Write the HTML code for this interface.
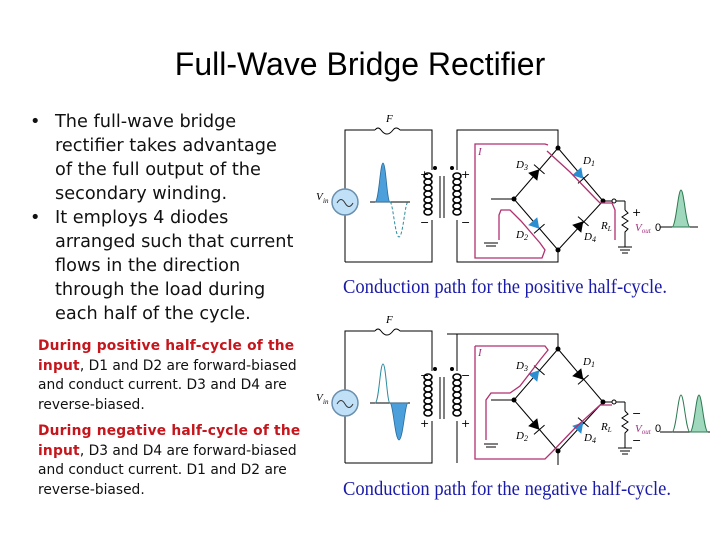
<!DOCTYPE html>
<html><head><meta charset="utf-8"><style>
body{margin:0;background:#fff;}
#p{position:relative;width:720px;height:540px;overflow:hidden;background:#fff;}
.t{position:absolute;left:0;width:720px;top:46px;text-align:center;font:32px "Liberation Sans",sans-serif;color:#000;}
.b{position:absolute;left:30px;top:110px;font:17.7px/24px "DejaVu Sans","Liberation Sans",sans-serif;color:#111;letter-spacing:0px;white-space:nowrap;}
.b div{position:relative;padding-left:25px;}
.b div:before{content:"•";position:absolute;left:0;}
.s{position:absolute;left:38px;font:13.8px/19.5px "DejaVu Sans","Liberation Sans",sans-serif;color:#111;letter-spacing:0px;white-space:nowrap;}
.r{color:#c4161c;font-weight:bold;letter-spacing:0.2px;}
svg{position:absolute;left:0;top:0;}
</style></head><body><div id="p">
<div class="t">Full-Wave Bridge Rectifier</div>
<div class="b"><div>The full-wave bridge<br>rectifier takes advantage<br>of the full output of the<br>secondary winding.</div><div>It employs 4 diodes<br>arranged such that current<br>flows in the direction<br>through the load during<br>each half of the cycle.</div></div>
<div class="s" style="top:337px"><span class="r">During positive half-cycle of the<br>input</span>, D1 and D2 are forward-biased<br>and conduct current. D3 and D4 are<br>reverse-biased.</div>
<div class="s" style="top:422px"><span class="r">During negative half-cycle of the<br>input</span>, D3 and D4 are forward-biased<br>and conduct current. D1 and D2 are<br>reverse-biased.</div>
<svg width="720" height="540" viewBox="0 0 720 540">
<defs>
<g id="d"><polygon points="-5,-6 5,0 -5,6"/><line x1="5" y1="-7" x2="5" y2="7" stroke="#000" stroke-width="1"/></g>
<g id="coil" fill="none" stroke="#000" stroke-width="1.6">
<ellipse cx="0" cy="176" rx="4" ry="3"/><ellipse cx="0" cy="182" rx="4" ry="3"/><ellipse cx="0" cy="188" rx="4" ry="3"/><ellipse cx="0" cy="194" rx="4" ry="3"/><ellipse cx="0" cy="200" rx="4" ry="3"/><ellipse cx="0" cy="206" rx="4" ry="3"/><ellipse cx="0" cy="212" rx="4" ry="3"/>
</g>
<g id="c" font-family="Liberation Serif,serif" font-style="italic" font-size="11">
<g fill="none" stroke="#000" stroke-width="1">
<polyline points="345,189 345,130 375,130"/><polyline points="400,130 432,130 432,170"/>
<path d="M375,130 q3,-4 6,0 q6,8 12,0 q3,-4 7,0"/>
<polyline points="345,215 345,262"/>
<line x1="370" y1="202" x2="410" y2="202"/>
<line x1="440" y1="176" x2="440" y2="218"/><line x1="444" y1="176" x2="444" y2="218"/>
<line x1="558" y1="148" x2="603" y2="201"/><line x1="558" y1="148" x2="514" y2="199"/>
<line x1="514" y1="199" x2="558" y2="250"/><line x1="558" y1="250" x2="603" y2="201"/>
<line x1="491" y1="199" x2="514" y2="199"/>
<line x1="603" y1="201" x2="612" y2="201"/>
<line x1="616" y1="201" x2="625" y2="201"/><line x1="625" y1="201" x2="625" y2="210"/>
<polyline points="625,210 628,213 622,217 628,221 622,225 628,229 625,232 625,247"/>
<line x1="618" y1="247" x2="632" y2="247"/><line x1="620" y1="250" x2="630" y2="250"/><line x1="622" y1="253" x2="628" y2="253"/>
<line x1="484" y1="243" x2="498" y2="243"/><line x1="486" y1="246" x2="496" y2="246"/>
</g>
<circle cx="345" cy="202" r="13" fill="#bfe0f6" stroke="#6a8fae" stroke-width="1.5"/>
<path d="M337,203 q4,-7 8,0 q4,7 8,0" fill="none" stroke="#333"/>
<use href="#coil" x="428"/><use href="#coil" x="457"/>
<circle cx="435" cy="168" r="2"/><circle cx="452" cy="168" r="2"/>
<circle cx="558" cy="148" r="2.5"/><circle cx="514" cy="199" r="2.5"/><circle cx="558" cy="250" r="2.5"/><circle cx="603" cy="201" r="2.5"/>
<circle cx="614" cy="201" r="2" fill="#fff" stroke="#000"/>
<text x="386" y="122">F</text><text x="316" y="200">V</text><text x="323" y="203" font-size="7">in</text>
<text x="516" y="168">D<tspan font-size="8" dy="2">3</tspan></text>
<text x="583" y="164">D<tspan font-size="8" dy="2">1</tspan></text>
<text x="516" y="238">D<tspan font-size="8" dy="2">2</tspan></text>
<text x="584" y="240">D<tspan font-size="8" dy="2">4</tspan></text>
<text x="601" y="229">R<tspan font-size="7" dy="2">L</tspan></text>
<text x="635" y="231" fill="#a03080">V<tspan font-size="7" dy="2">out</tspan></text>
<text x="478" y="155" fill="#a03080">I</text>
<text x="655" y="231" font-style="normal" font-family="Liberation Sans,sans-serif">0</text>
</g>
</defs>
<use href="#c"/>
<use href="#c" y="201"/>
<g stroke="#000" stroke-width="1" fill="none">
<polyline points="457,170 457,130 558,130 558,148"/><polyline points="457,220 457,262 558,262 558,250"/>
<polyline points="432,220 432,262 345,262"/>
<polyline points="457,371 457,334"/><polyline points="457,421 457,463"/><polyline points="432,421 432,463 345,463"/>
<polyline points="447,334 558,334 558,349"/><polyline points="558,451 558,465"/>
<line x1="660" y1="227" x2="698" y2="227"/><line x1="660" y1="432" x2="710" y2="432"/>
</g>
<path d="M375,202 C379,202 380,163 383,163 C386,163 387,202 390,202 Z" fill="#4ba0dc" stroke="#2b6c9c" stroke-width="0.8"/>
<path d="M390,202 C393,202 395,237 399,237 C403,237 405,202 408,202" fill="none" stroke="#2b8ca0" stroke-dasharray="3,2"/>
<path d="M672,227 C676,227 678,190 681,190 C684,190 686,227 690,227 Z" fill="#9fd8bc" stroke="#2d7a50"/>
<g fill="#2a8ed0"><use href="#d" transform="translate(580,175) rotate(49)"/><use href="#d" transform="translate(536,225) rotate(49)"/></g>
<g fill="#000"><use href="#d" transform="translate(536,173) rotate(-49)"/><use href="#d" transform="translate(580,225) rotate(-49)"/></g>
<g fill="none" stroke="#b03070" stroke-width="1.3">
<polyline points="548,145 545,144 475,144 475,258 542,258 545,250 540,243 521,221 510,210 501,210 499,215 499,240"/>
<polyline points="547,151 570,172 595,198 600,203 612,203 615,210 615,240"/>
</g>
<g font-family="DejaVu Sans,sans-serif" font-size="11"><text x="420" y="178">+</text><text x="461" y="178">+</text><text x="420" y="226">−</text><text x="461" y="226">−</text><text x="632" y="216">+</text></g>
<text x="343" y="293" font-family="Liberation Serif,serif" font-size="19.5" fill="#1a1aa8" textLength="324" lengthAdjust="spacingAndGlyphs">Conduction path for the positive half-cycle.</text>
<path d="M375,403 C379,403 380,364 383,364 C386,364 387,403 390,403" fill="none" stroke="#2b8ca0"/>
<path d="M390,403 C393,403 395,440 399,440 C403,440 405,403 408,403 Z" fill="#4ba0dc" stroke="#2b6c9c" stroke-width="0.8"/>
<path d="M672,432 C676,432 678,395 681,395 C684,395 686,432 690,432" fill="none" stroke="#2d7a50"/>
<path d="M690,432 C694,432 696,395 699,395 C702,395 704,432 708,432 Z" fill="#9fd8bc" stroke="#2d7a50"/>
<g fill="#2a8ed0"><use href="#d" transform="translate(536,374) rotate(-49)"/><use href="#d" transform="translate(580,426) rotate(-49)"/></g>
<g fill="#000"><use href="#d" transform="translate(580,376) rotate(49)"/><use href="#d" transform="translate(536,426) rotate(49)"/></g>
<g fill="none" stroke="#b03070" stroke-width="1.3">
<polyline points="475,346 545,346 548,350 540,360 520,386 510,393 491,393 486,400 486,440"/>
<polyline points="475,346 475,459 545,459 552,452 575,428 600,405 612,405"/>
</g>
<g font-family="DejaVu Sans,sans-serif" font-size="11"><text x="420" y="379">−</text><text x="461" y="379">−</text><text x="420" y="427">+</text><text x="461" y="427">+</text><text x="632" y="417">−</text><text x="632" y="444">−</text></g>
<text x="343" y="495" font-family="Liberation Serif,serif" font-size="19.5" fill="#1a1aa8" textLength="328" lengthAdjust="spacingAndGlyphs">Conduction path for the negative half-cycle.</text>
</svg>
</div></body></html>
